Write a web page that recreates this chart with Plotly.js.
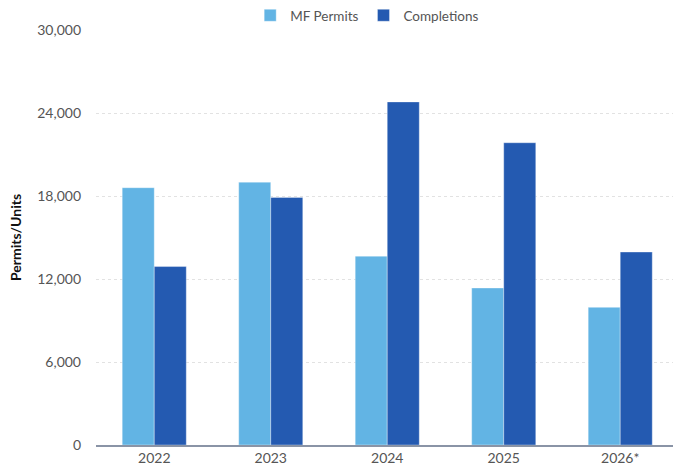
<!DOCTYPE html>
<html>
<head>
<meta charset="utf-8">
<script src="https://cdn.plot.ly/plotly-3.0.1.min.js"></script>
<style>html,body{margin:0;padding:0;background:#fff;}#chart{width:673px;height:465px;}</style>
</head>
<body>
<div id="chart"></div>
<script>
const years = ["2022", "2023", "2024", "2025", "2026*"];
const mfPermits = [18600, 19000, 13650, 11350, 9950];
const completions = [12900, 17900, 24800, 21850, 13950];
const yTicks = [0, 6000, 12000, 18000, 24000, 30000];
const yTickLabels = ["0", "6,000", "12,000", "18,000", "24,000", "30,000"];

const font = "Lato, 'Open Sans', sans-serif";
const data = [
  {type: "bar", name: "MF Permits", x: years, y: mfPermits,
   marker: {color: "#62B4E4", line: {color: "rgba(255,255,255,0.35)", width: 1}}},
  {type: "bar", name: "Completions", x: years, y: completions,
   marker: {color: "#245AB1", line: {color: "rgba(255,255,255,0.35)", width: 1}}}
];
const layout = {
  width: 673, height: 465,
  margin: {l: 96, r: 0, t: 30, b: 20, autoexpand: false},
  paper_bgcolor: "#fff", plot_bgcolor: "#fff",
  barmode: "group", bargap: 0.45, bargroupgap: 0,
  font: {family: font, size: 14, color: "#555"},
  showlegend: true,
  legend: {orientation: "h", x: 0.47, xanchor: "center", yref: "container", y: 1, yanchor: "top",
           font: {family: font, size: 13.5, color: "#555"}, itemwidth: 30, traceorder: "normal"},
  xaxis: {type: "category", range: [-0.5, 4.453], showgrid: false, showline: true,
          linecolor: "#8a94a6", linewidth: 1.5, ticks: "", ticklabelstandoff: 0,
          tickfont: {size: 14, color: "#555"}},
  yaxis: {range: [0, 30000], tickvals: yTicks, ticktext: yTickLabels, showgrid: true,
          gridcolor: "#e2e2e2", griddash: "dot", gridwidth: 1, zeroline: false, showline: false,
          ticks: "", ticklabelstandoff: 14, tickfont: {size: 14, color: "#555"},
          title: {text: "<b>Permits/Units</b>", font: {size: 14, color: "#111"}, standoff: 12}}
};
Plotly.newPlot("chart", data, layout, {displayModeBar: false, staticPlot: true});
</script>
</body>
</html>
